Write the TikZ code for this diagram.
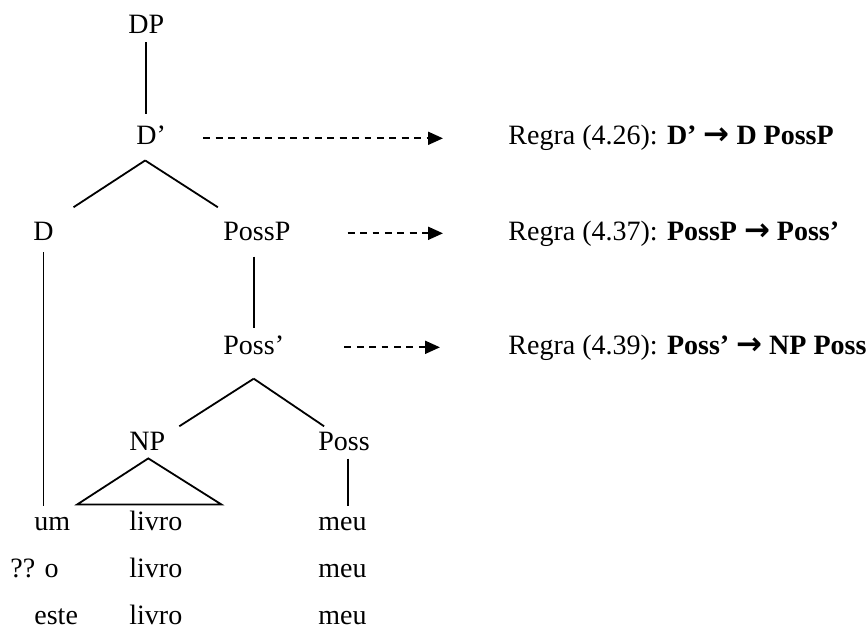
\documentclass[tikz,border=0pt]{standalone}
\usepackage{fontspec}
\setmainfont{Liberation Serif}
\newfontfamily\arrowfont{DejaVu Sans}
\usetikzlibrary{arrows.meta,calc}

\begin{document}
\begin{tikzpicture}[
  x=0.5pt, y=-0.5pt,
  font=\fontsize{14}{16}\selectfont,
  lab/.style={anchor=base west, inner sep=0pt},
  edge/.style={line width=0.9pt},
  ar/.style={-{Triangle[length=7.5pt,width=6.5pt]}, line width=1pt, dash pattern=on 3.4pt off 2.8pt},
]
\useasboundingbox (0,0) rectangle (867,631);
% tree labels
\node[lab] (DP) at (128,34) {DP};
\node[lab] (Dbar) at (136,145) {D’};
\node[lab] (D) at (33,240) {D};
\node[lab] (PossP) at (223,240) {PossP};
\node[lab] (Possbar) at (223,354) {Poss’};
\node[lab] (NP) at (129,450) {NP};
\node[lab] (Poss) at (318,450) {Poss};
% the three word rows
\node[lab] (um) at (34,530) {um};
\node[lab] (livroA) at (129,530) {livro};
\node[lab] (meuA) at (318,530) {meu};
\node[lab] (oo) at (10,577) {?? o};
\node[lab] (livroB) at (129,577) {livro};
\node[lab] (meuB) at (318,577) {meu};
\node[lab] (este) at (34,624) {este};
\node[lab] (livroC) at (129,624) {livro};
\node[lab] (meuC) at (318,624) {meu};
% rules
\node[lab] (ruleA) at (508,145) {Regra (4.26): \textbf{D’ {\arrowfont\fontsize{15.5}{16}\selectfont →} D PossP}};
\node[lab] (ruleB) at (508,240) {Regra (4.37): \textbf{PossP {\arrowfont\fontsize{15.5}{16}\selectfont →} Poss’}};
\node[lab] (ruleC) at (508,354) {Regra (4.39): \textbf{Poss’ {\arrowfont\fontsize{15.5}{16}\selectfont →} NP Poss}};
% branches
\draw[edge, shorten <=4pt, shorten >=6pt] (DP.south) -- (DP.south |- Dbar.north);
\coordinate (Dtop) at ([xshift=-3pt,yshift=-7.5pt]Dbar.south);
\draw[edge] (Dtop) -- ([xshift=15pt,yshift=7pt]D.north);
\draw[edge] (Dtop) -- ([xshift=-19.5pt,yshift=7pt]PossP.north);
\draw[edge, shorten <=6pt, shorten >=5.4pt] (D.south) -- (D.south |- um.north);
\draw[edge, shorten <=8pt, shorten >=3.3pt] (Possbar.north |- PossP.south) -- (Possbar.north);
\coordinate (Posstop) at ([yshift=-12pt]Possbar.south);
\draw[edge] (Posstop) -- ([xshift=16pt,yshift=2.5pt]NP.north);
\draw[edge] (Posstop) -- ([xshift=-10pt,yshift=2.5pt]Poss.north);
\draw[edge] ([xshift=0.5pt,yshift=-4pt]NP.south) -- ([xshift=-35pt,yshift=-27pt]NP.south)
  -- ([xshift=37pt,yshift=-27pt]NP.south) -- cycle;
\draw[edge, shorten <=4pt, shorten >=5.4pt] ([xshift=2pt]Poss.south) -- ([xshift=2pt]Poss.south |- meuA.north);
% rule arrows
\draw[ar, shorten <=18.5pt, shorten >=32.5pt] (ruleA.west -| Dbar.east) -- (ruleA.west);
\draw[ar, shorten <=28.5pt, shorten >=32.5pt] (ruleB.west -| PossP.east) -- (ruleB.west);
\draw[ar, shorten <=30pt, shorten >=34pt] (ruleC.west -| Possbar.east) -- (ruleC.west);
\end{tikzpicture}
\end{document}
